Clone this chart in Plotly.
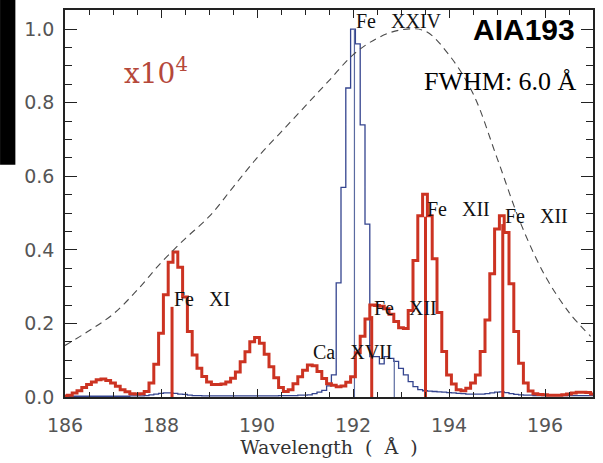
import numpy as np
import plotly.graph_objects as go

# Wavelength bins (Angstrom), 0.1 A spacing from 186.0 to 197.0
wl_start, wl_step, n_bins = 186.0, 0.1, 111
wavelength = np.round(wl_start + wl_step * np.arange(n_bins), 2)

# Synthetic spectrum, cool component (x10^4), one value per bin
spec_cool = [
    0.003, 0.005, 0.011, 0.017, 0.026, 0.034, 0.041, 0.047, 0.049, 0.045,  # 186
    0.038, 0.029, 0.020, 0.014, 0.009, 0.008, 0.009, 0.015, 0.038, 0.089,  # 187
    0.173, 0.278, 0.366, 0.394, 0.353, 0.272, 0.178, 0.114, 0.078, 0.056,  # 188
    0.041, 0.034, 0.034, 0.035, 0.041, 0.051, 0.068, 0.096, 0.123, 0.150,  # 189
    0.162, 0.146, 0.116, 0.082, 0.052, 0.026, 0.015, 0.020, 0.036, 0.055,  # 190
    0.073, 0.087, 0.085, 0.069, 0.050, 0.036, 0.032, 0.028, 0.030, 0.040,  # 191
    0.055, 0.120, 0.165, 0.212, 0.250, 0.249, 0.247, 0.240, 0.225, 0.205,  # 192
    0.188, 0.186, 0.235, 0.371, 0.493, 0.551, 0.493, 0.376, 0.230, 0.124,  # 193
    0.060, 0.035, 0.020, 0.017, 0.024, 0.038, 0.060, 0.124, 0.209, 0.335,  # 194
    0.457, 0.493, 0.447, 0.308, 0.178, 0.092, 0.038, 0.016, 0.009, 0.007,  # 195
    0.006, 0.005, 0.005, 0.005, 0.006, 0.008, 0.011, 0.013, 0.013, 0.012,  # 196
    0.008,                                                                 # 197
]

# Synthetic spectrum, hot component
spec_hot = [
    0.002, 0.002, 0.002, 0.002, 0.002, 0.002, 0.002, 0.002, 0.002, 0.002,  # 186
    0.002, 0.002, 0.002, 0.002, 0.003, 0.003, 0.003, 0.004, 0.006, 0.008,  # 187
    0.010, 0.011, 0.011, 0.010, 0.008, 0.007, 0.005, 0.004, 0.004, 0.003,  # 188
    0.003, 0.003, 0.003, 0.003, 0.003, 0.003, 0.003, 0.003, 0.003, 0.003,  # 189
    0.003, 0.003, 0.003, 0.003, 0.003, 0.004, 0.004, 0.004, 0.004, 0.005,  # 190
    0.005, 0.006, 0.009, 0.013, 0.018, 0.030, 0.060, 0.310, 0.570, 0.840,  # 191
    1.000, 0.960, 0.740, 0.470, 0.110, 0.110, 0.090, 0.110, 0.105, 0.097,  # 192
    0.078, 0.060, 0.042, 0.028, 0.020, 0.017, 0.016, 0.015, 0.014, 0.013,  # 193
    0.012, 0.011, 0.010, 0.009, 0.008, 0.008, 0.008, 0.008, 0.009, 0.011,  # 194
    0.013, 0.014, 0.012, 0.009, 0.007, 0.006, 0.005, 0.005, 0.004, 0.004,  # 195
    0.004, 0.004, 0.004, 0.004, 0.004, 0.004, 0.004, 0.004, 0.004, 0.004,  # 196
    0.004,                                                                 # 197
]

# Normalised AIA 193 channel response
resp_wl = [186.0, 186.5, 187.0, 187.5, 188.0, 188.5, 189.0, 189.5, 190.0, 190.5,
           191.0, 191.5, 192.0, 192.5, 193.0, 193.5, 194.0, 194.5, 195.0, 195.5,
           196.0, 196.5, 196.95]
resp_val = [0.140, 0.180, 0.225, 0.290, 0.365, 0.430, 0.490, 0.570, 0.650, 0.720,
            0.790, 0.860, 0.930, 0.975, 0.998, 0.995, 0.930, 0.825, 0.650, 0.470,
            0.330, 0.230, 0.165]

# Line positions, heights and ion labels
cool_lines_wl = [188.23, 192.39, 193.51, 195.12]
cool_lines_h = [0.245, 0.22, 0.49, 0.47]
cool_lines_ion = ["Fe XI", "Fe XII", "Fe XII", "Fe XII"]

hot_lines_wl = [192.03, 192.86]
hot_lines_h = [1.0, 0.10]
hot_lines_ion = ["Fe XXIV", "Ca XVII"]
hot_lines_anchor = ["left", "right"]

RED = "#cc3322"
BLUE = "#34448f"
INK = "#222222"
TICK_GRAY = "#555555"
NB = "\u00a0"


def stems(xs, hs):
    x, y = [], []
    for xv, hv in zip(xs, hs):
        x += [xv, xv, None]
        y += [0, hv, None]
    return x, y


fig = go.Figure()

# hot component histogram and its lines
fig.add_trace(go.Scatter(x=wavelength, y=spec_hot, mode="lines",
                         line=dict(color=BLUE, width=1.3, shape="hvh"),
                         hoverinfo="skip", showlegend=False))
hx, hy = stems(hot_lines_wl, hot_lines_h)
fig.add_trace(go.Scatter(x=hx, y=hy, mode="lines",
                         line=dict(color="#5a6aa0", width=1.2),
                         hoverinfo="skip", showlegend=False))

# cool component histogram and its lines
fig.add_trace(go.Scatter(x=wavelength, y=spec_cool, mode="lines",
                         line=dict(color=RED, width=3, shape="hvh"),
                         hoverinfo="skip", showlegend=False))
cx, cy = stems(cool_lines_wl, cool_lines_h)
fig.add_trace(go.Scatter(x=cx, y=cy, mode="lines",
                         line=dict(color=RED, width=3),
                         hoverinfo="skip", showlegend=False))

# channel response
fig.add_trace(go.Scatter(x=resp_wl, y=resp_val, mode="lines",
                         line=dict(color="#4a4a4a", width=1.1, dash="7px,5px",
                                   shape="spline", smoothing=1.0),
                         hoverinfo="skip", showlegend=False))

annotations = []
for wl, h, ion in zip(cool_lines_wl, cool_lines_h, cool_lines_ion):
    annotations.append(dict(x=wl, y=h, xref="x", yref="y", text=ion.replace(" ", NB * 3),
                            showarrow=False, xanchor="left", yanchor="bottom", yshift=-5,
                            font=dict(family="Liberation Serif", size=20, color="#111111")))
for wl, h, ion, anc in zip(hot_lines_wl, hot_lines_h, hot_lines_ion, hot_lines_anchor):
    annotations.append(dict(x=wl, y=h, xref="x", yref="y", text=ion.replace(" ", NB * 3),
                            showarrow=False, xanchor=anc, yanchor="bottom", yshift=-5,
                            font=dict(family="Liberation Serif", size=20, color="#111111")))

annotations += [
    dict(x=0.108, y=0.84, xref="paper", yref="paper", text="x10<sup>4</sup>",
         showarrow=False, xanchor="left", yanchor="middle",
         font=dict(family="DejaVu Serif", size=28, color="#b5483a")),
    dict(x=0.970, y=0.949, xref="paper", yref="paper", text="<b>AIA193</b>",
         showarrow=False, xanchor="right", yanchor="middle",
         font=dict(family="Liberation Sans", size=30, color="#000000")),
    dict(x=0.974, y=0.814, xref="paper", yref="paper", text="FWHM: 6.0 Å",
         showarrow=False, xanchor="right", yanchor="middle",
         font=dict(family="Liberation Serif", size=26, color="#000000")),
]

axis_common = dict(
    showline=True, linecolor=INK, linewidth=1.5, mirror="allticks",
    ticks="inside", tickcolor=INK, tickwidth=1,
    showgrid=False, zeroline=False,
    tickfont=dict(family="DejaVu Sans", size=19, color=TICK_GRAY),
)

fig.update_layout(
    width=603, height=463,
    margin=dict(l=65, r=8, t=9, b=64),
    paper_bgcolor="white", plot_bgcolor="white",
    annotations=annotations,
    shapes=[dict(type="rect", xref="paper", yref="paper",
                 x0=-0.123, x1=-0.094, y0=0.6, y1=1.03,
                 fillcolor="black", line=dict(width=0), layer="above")],
    xaxis=dict(range=[186, 197], tickvals=[186, 188, 190, 192, 194, 196],
               ticklen=8, ticklabelstandoff=10,
               minor=dict(dtick=0.5, ticklen=5, ticks="inside", tickcolor=INK, showgrid=False),
               title=dict(text="Wavelength" + NB * 2 + "(" + NB * 2 + "Å" + NB * 2 + ")",
                          standoff=6,
                          font=dict(family="DejaVu Serif", size=19, color="#333333")),
               **axis_common),
    yaxis=dict(range=[0, 1.052], tickvals=[0, 0.2, 0.4, 0.6, 0.8, 1.0],
               tickformat=".1f", ticklen=12, ticklabelstandoff=5,
               minor=dict(dtick=0.05, ticklen=7, ticks="inside", tickcolor=INK, showgrid=False),
               **axis_common),
)

fig.write_html("out.html")
